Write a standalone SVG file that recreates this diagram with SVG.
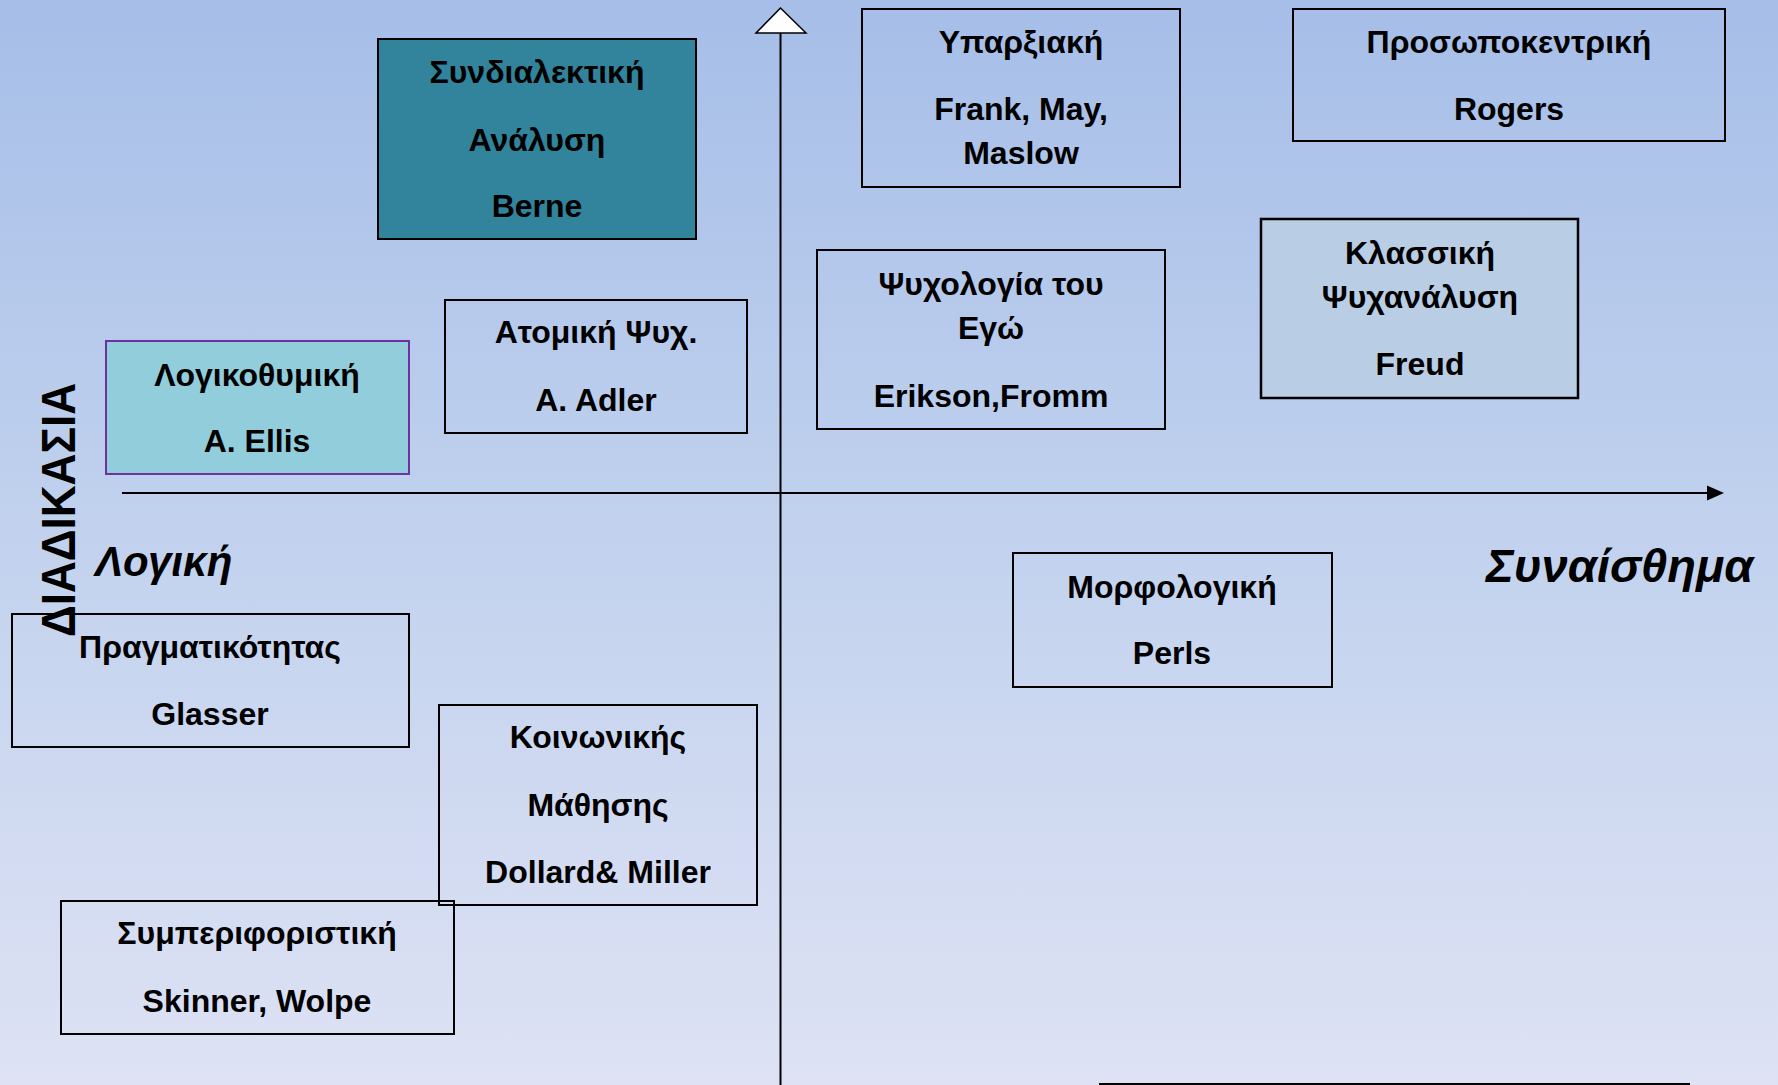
<svg xmlns="http://www.w3.org/2000/svg" width="1778" height="1085" viewBox="0 0 1778 1085">
<defs>
<linearGradient id="bg" x1="0" y1="0" x2="0" y2="1">
<stop offset="0" stop-color="#A6BEE8"/>
<stop offset="0.5" stop-color="#C2D2EE"/>
<stop offset="1" stop-color="#DEE2F4"/>
</linearGradient>
<style>
.box{fill:none;stroke:#000;stroke-width:2}
.t{font-family:"Liberation Sans","DejaVu Sans",sans-serif;font-weight:bold;font-size:32px;fill:#000;text-anchor:middle}
.ax{stroke:#000;stroke-width:2;fill:none}
.lbl{font-family:"Liberation Sans","DejaVu Sans",sans-serif;font-weight:bold;font-style:italic;fill:#000}
</style>
</defs>
<rect x="0" y="0" width="1778" height="1085" fill="url(#bg)"/>

<g id="connectors">
<line class="ax" x1="780.5" y1="33" x2="780.5" y2="1085"/>
<polygon points="780.5,8 756,33 806,33" fill="#fff" stroke="#000" stroke-width="1.5"/>
<line class="ax" x1="122" y1="493" x2="1710" y2="493"/>
<polygon points="1707,485.5 1724,493 1707,500.5" fill="#000"/>
<line class="ax" x1="1099" y1="1084" x2="1690" y2="1084"/>
</g>

<g id="syndialektiki">
<rect x="378" y="39" width="318" height="200" fill="#31849B" stroke="#000" stroke-width="2"/>
<text class="t" x="537" y="83">Συνδιαλεκτική</text>
<text class="t" x="537" y="151">Ανάλυση</text>
<text class="t" x="537" y="217">Berne</text>
</g>

<g id="logikothymiki">
<rect x="106" y="341" width="303" height="133" fill="#92CDDC" stroke="#7030A0" stroke-width="2"/>
<text class="t" x="257" y="386">Λογικοθυμική</text>
<text class="t" x="257" y="452">A. Ellis</text>
</g>

<g id="atomiki">
<rect class="box" x="445" y="300" width="302" height="133"/>
<text class="t" x="596" y="343">Ατομική Ψυχ.</text>
<text class="t" x="596" y="411">A. Adler</text>
</g>

<g id="yparxiaki">
<rect class="box" x="862" y="9" width="318" height="178"/>
<text class="t" x="1021" y="53">Υπαρξιακή</text>
<text class="t" x="1021" y="120">Frank, May,</text>
<text class="t" x="1021" y="164">Maslow</text>
</g>

<g id="prosopokentriki">
<rect class="box" x="1293" y="9" width="432" height="132"/>
<text class="t" x="1509" y="53">Προσωποκεντρική</text>
<text class="t" x="1509" y="120">Rogers</text>
</g>

<g id="psychologia-ego">
<rect class="box" x="817" y="250" width="348" height="179"/>
<text class="t" x="991" y="295">Ψυχολογία του</text>
<text class="t" x="991" y="339">Εγώ</text>
<text class="t" x="991" y="407">Erikson,Fromm</text>
</g>

<g id="klassiki">
<rect x="1261" y="219" width="317" height="179" fill="#B9CDE5" stroke="#000" stroke-width="2.5"/>
<text class="t" x="1420" y="264">Κλασσική</text>
<text class="t" x="1420" y="308">Ψυχανάλυση</text>
<text class="t" x="1420" y="375">Freud</text>
</g>

<g id="morfologiki">
<rect class="box" x="1013" y="553" width="319" height="134"/>
<text class="t" x="1172" y="598">Μορφολογική</text>
<text class="t" x="1172" y="664">Perls</text>
</g>

<g id="pragmatikotitas">
<rect class="box" x="12" y="614" width="397" height="133"/>
<text class="t" x="210" y="658">Πραγματικότητας</text>
<text class="t" x="210" y="725">Glasser</text>
</g>

<g id="koinonikis">
<rect class="box" x="439" y="705" width="318" height="200"/>
<text class="t" x="598" y="748">Κοινωνικής</text>
<text class="t" x="598" y="816">Μάθησης</text>
<text class="t" x="598" y="883">Dollard&amp; Miller</text>
</g>

<g id="symperiforistiki">
<rect class="box" x="61" y="901" width="393" height="133"/>
<text class="t" x="257" y="944">Συμπεριφοριστική</text>
<text class="t" x="257" y="1012">Skinner, Wolpe</text>
</g>

<g id="labels">
<text class="lbl" x="95" y="576" font-size="42">Λογική</text>
<text class="lbl" x="1486" y="582" font-size="47">Συναίσθημα</text>
<text transform="translate(75,510) rotate(-90)" font-family="Liberation Sans, DejaVu Sans, sans-serif" font-weight="bold" font-size="49" text-anchor="middle" textLength="254" lengthAdjust="spacingAndGlyphs">ΔΙΑΔΙΚΑΣΙΑ</text>
</g>
</svg>
